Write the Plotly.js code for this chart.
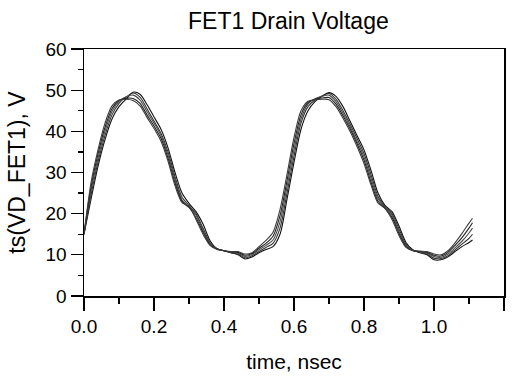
<!DOCTYPE html>
<html>
<head>
<meta charset="utf-8">
<script src="https://cdn.plot.ly/plotly-3.0.1.min.js"></script>
<style>html,body{margin:0;padding:0;background:#fff;}#chart{width:515px;height:376px;}</style>
</head>
<body>
<div id="chart"></div>
<script>
// time, nsec
const time = [0, 0.02, 0.04, 0.06, 0.08, 0.10, 0.12, 0.14, 0.16, 0.18, 0.20, 0.22, 0.24, 0.26, 0.28, 0.30, 0.32, 0.34, 0.36, 0.38, 0.40, 0.42, 0.44, 0.46, 0.48, 0.50, 0.52, 0.54, 0.56, 0.58, 0.60, 0.62, 0.64, 0.66, 0.68, 0.70, 0.72, 0.74, 0.76, 0.78, 0.80, 0.82, 0.84, 0.86, 0.88, 0.90, 0.92, 0.94, 0.96, 0.98, 1.00, 1.02, 1.04, 1.06, 1.08, 1.10, 1.11];

// ts(VD_FET1), V — one array per swept curve
const vd1 = [15, 23.5, 31.5, 38, 43, 46, 47.8, 49.5, 49, 46.5, 43.5, 40.5, 36, 30, 25, 22.5, 20.5, 17.5, 13.5, 11.5, 11, 10.5, 10, 9, 9.5, 10.5, 11.3, 12, 15, 23.5, 32.5, 40.5, 45, 47.2, 48.5, 49.4, 48.5, 46, 42.5, 39, 35.5, 30.5, 25, 22, 20.5, 17, 13, 11.2, 10.5, 10, 8.8, 8.8, 9.5, 10.8, 12, 13, 13.6];
const vd2 = [15, 24.5, 32.5, 39, 44, 46.8, 48.3, 49.3, 48.3, 45.5, 42.5, 39.5, 35, 29, 24, 22, 20, 16.5, 13, 11.5, 11, 10.5, 10.2, 9.3, 9.8, 10.8, 11.8, 12.8, 16.5, 25, 34, 42, 46, 47.6, 48.6, 49.2, 47.8, 45, 41.8, 38.3, 34.6, 29.5, 24.2, 21.8, 20, 16.3, 12.6, 11.1, 10.6, 10.2, 9.2, 9.1, 9.8, 11.2, 12.6, 14, 15];
const vd3 = [15, 25.5, 33.5, 40, 44.8, 47.3, 48.4, 48.8, 47.6, 44.8, 42, 39, 34.3, 28.3, 23.3, 21.7, 19.6, 16, 12.8, 11.5, 11, 10.6, 10.4, 9.6, 10.1, 11.2, 12.3, 13.6, 18, 26.5, 35.5, 43, 46.6, 47.9, 48.5, 48.8, 47.2, 44.4, 41.2, 37.6, 33.8, 28.6, 23.6, 21.6, 19.6, 15.7, 12.3, 11.1, 10.7, 10.4, 9.6, 9.4, 10.2, 11.7, 13.3, 15.3, 16.5];
const vd4 = [15, 26.5, 34.5, 41, 45.5, 47.5, 48, 48, 46.8, 44, 41.3, 38.3, 33.5, 27.5, 23, 21.5, 19, 15.5, 12.5, 11.4, 11, 10.7, 10.6, 9.9, 10.3, 11.6, 12.8, 14.5, 19.5, 28, 37, 44, 47, 47.8, 48.1, 48.2, 46.6, 43.8, 40.6, 37, 33, 27.7, 23, 21.3, 19.1, 15.2, 12, 11, 10.8, 10.6, 9.9, 9.7, 10.6, 12.3, 14.2, 16.5, 17.8];
const vd5 = [15, 27.5, 35.5, 42, 46.2, 47.6, 47.8, 47.5, 46.2, 43.4, 40.7, 37.6, 32.8, 26.8, 22.7, 21.8, 18.6, 15, 12.3, 11.3, 11, 10.8, 10.8, 10.2, 10.5, 12, 13.5, 15.5, 21, 29.5, 38.5, 45, 47.3, 47.7, 47.8, 47.7, 46, 43.2, 40, 36.3, 32.2, 27, 22.6, 21.3, 18.6, 14.7, 11.8, 11, 10.9, 10.8, 10.2, 10, 11, 12.9, 15.2, 17.7, 18.9];

const seriesList = [vd1, vd2, vd3, vd4, vd5];
const colors = ['#111111', '#333333', '#4a4a4a', '#222222', '#3c3c3c'];

const traces = seriesList.map((v, i) => ({
  x: time, y: v, type: 'scatter', mode: 'lines',
  line: {color: colors[i], width: 1.1, shape: 'spline', smoothing: 0.8},
  hoverinfo: 'skip', showlegend: false
}));

const font = 'Liberation Sans, Arial, sans-serif';
const layout = {
  width: 515, height: 376,
  margin: {l: 84, r: 11, t: 49, b: 80, pad: 0},
  paper_bgcolor: '#ffffff', plot_bgcolor: '#ffffff',
  font: {family: font, color: '#000'},
  title: {text: 'FET1 Drain Voltage', font: {family: font, size: 23, color: '#000'},
          x: 0.56, xanchor: 'center', xref: 'container', y: 0.943, yanchor: 'middle', yref: 'container'},
  xaxis: {
    range: [0, 1.2], tick0: 0, dtick: 0.2, tickformat: '.1f',
    ticks: 'outside', ticklen: 13, tickwidth: 1.2, tickcolor: '#000',
    minor: {dtick: 0.1, ticks: 'outside', ticklen: 6, tickwidth: 1.2, tickcolor: '#000'},
    showline: true, linecolor: '#000', linewidth: 1.5, mirror: true,
    showgrid: false, zeroline: false,
    tickfont: {family: font, size: 19, color: '#000'},
    title: {text: 'time, nsec', font: {family: font, size: 21, color: '#000'}, standoff: 18}
  },
  yaxis: {
    range: [0, 60], tick0: 0, dtick: 10,
    ticks: 'outside', ticklen: 12, tickwidth: 1.2, tickcolor: '#000',
    minor: {dtick: 5, ticks: 'outside', ticklen: 5, tickwidth: 1.2, tickcolor: '#000'},
    showline: true, linecolor: '#000', linewidth: 1.5, mirror: true,
    showgrid: false, zeroline: false,
    tickfont: {family: font, size: 19, color: '#000'},
    title: {text: 'ts(VD_FET1), V', font: {family: font, size: 23, color: '#000'}, standoff: 13}
  }
};

Plotly.newPlot('chart', traces, layout, {staticPlot: true, displayModeBar: false});
</script>
</body>
</html>
